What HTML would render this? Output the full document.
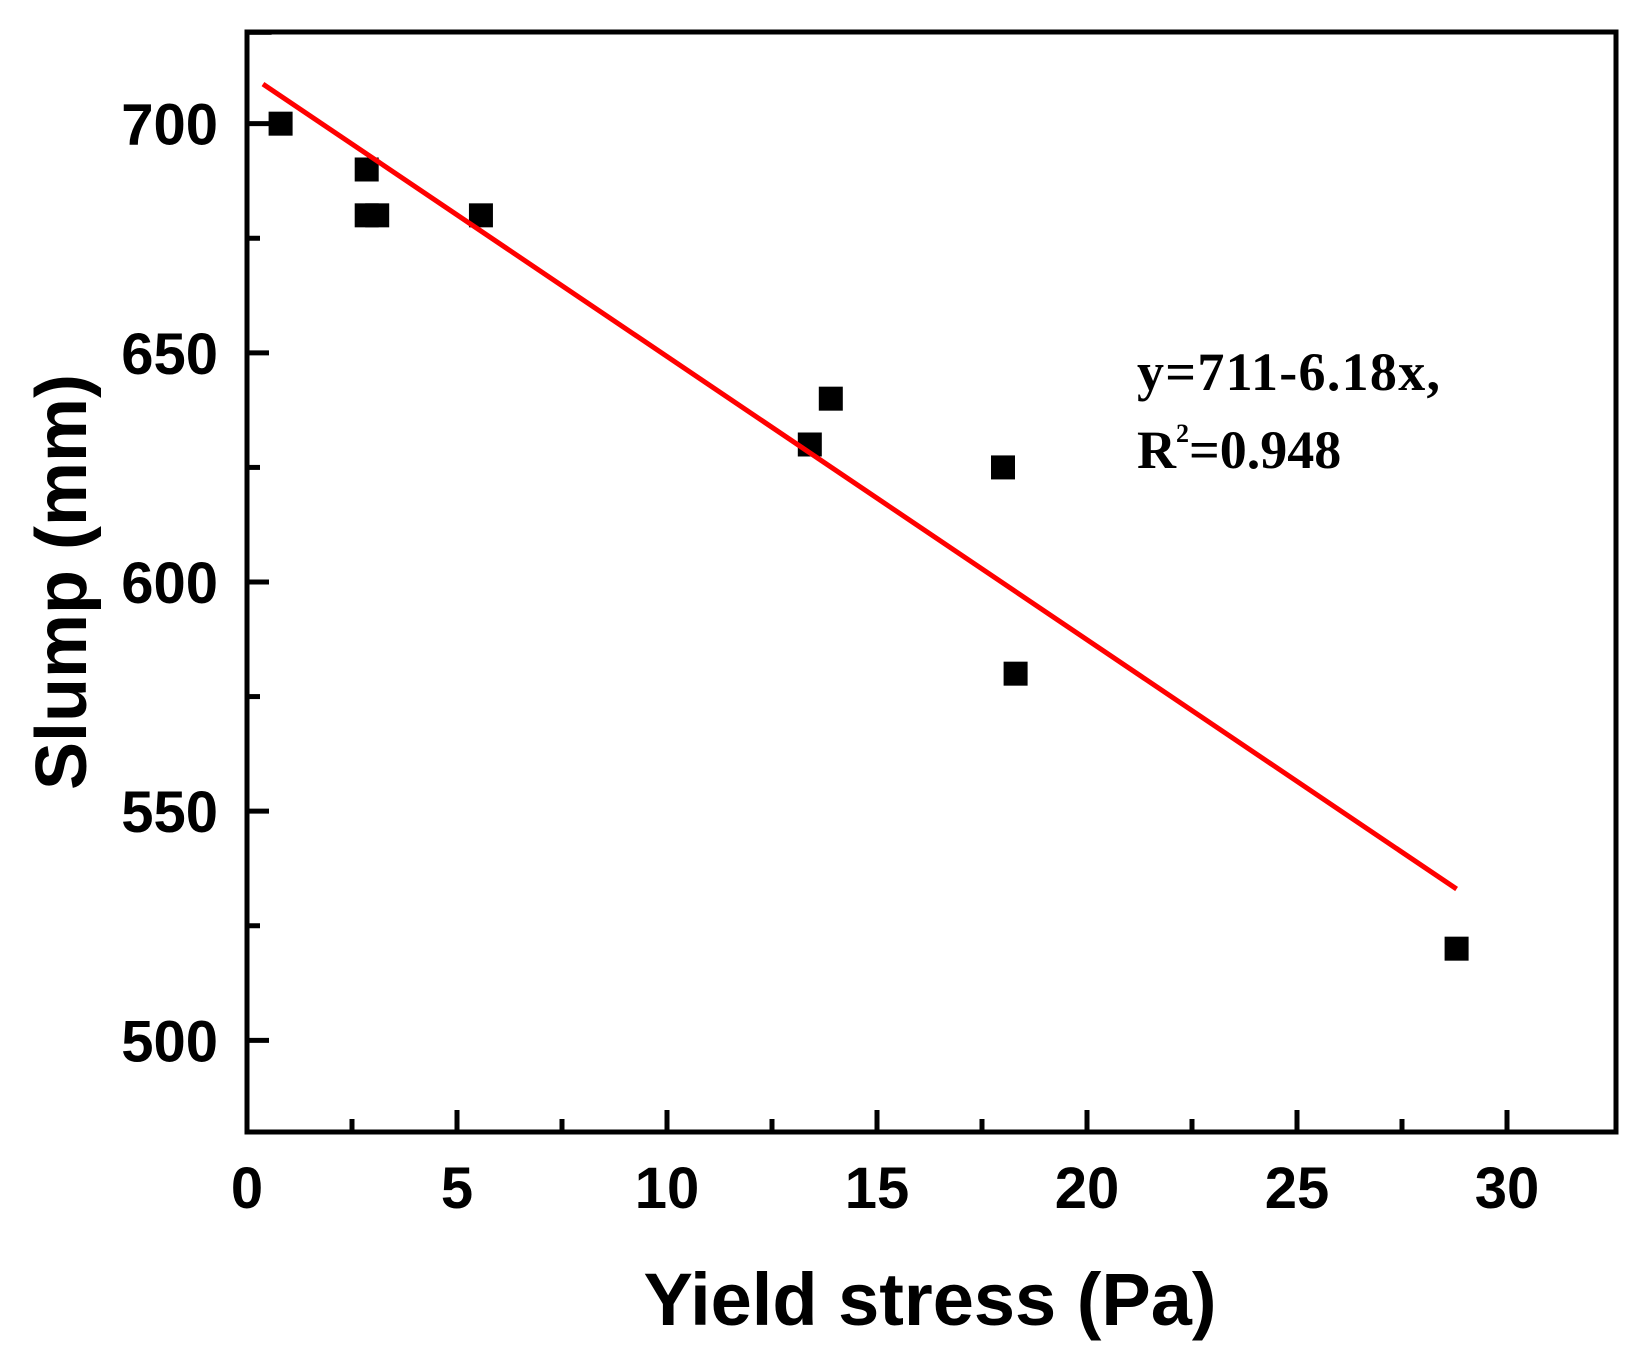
<!DOCTYPE html>
<html><head><meta charset="utf-8"><style>body{margin:0;background:#fff}svg{display:block}</style></head>
<body>
<svg id="chart" width="1651" height="1364" xmlns="http://www.w3.org/2000/svg">
<defs><clipPath id="plotclip"><rect x="247" y="32" width="1369" height="1100"/></clipPath></defs>
<g id="g"></g>
</svg>
<script>
const xVals=[0.3,0.8,2.85,2.85,3.1,5.57,13.4,13.9,18.0,18.3,28.8];
const yVals=[722,700,690,680,680,680,630,640,625,580,520];
const xTicks=[0,5,10,15,20,25,30];
const yTicks=[500,550,600,650,700];
const fitX=[0.38,28.8];
const intercept=711, slope=-6.18;
const L=247,R=1616,T=32,B=1132;
const sx=v=>L+v*42, sy=v=>B-(v-480)*(B-T)/240;
const g=document.getElementById('g');const NS='http://www.w3.org/2000/svg';
function mk(t,a,p){const e=document.createElementNS(NS,t);for(const k in a)e.setAttribute(k,a[k]);(p||g).appendChild(e);return e;}
for(let v=0;v<=30;v+=2.5){const major=v%5===0;const e=mk('line',{x1:sx(v),x2:sx(v),y1:B,y2:B-(major?22:13),stroke:'#000','stroke-width':5});

}
for(let v=500;v<=700;v+=25){const major=v%50===0;const e=mk('line',{x1:L,x2:L+(major?22:13),y1:sy(v),y2:sy(v),stroke:'#000','stroke-width':5});

}
xTicks.forEach(v=>{const t=mk('text',{x:sx(v),y:1208,'text-anchor':'middle','font-family':'Liberation Sans, sans-serif','font-weight':'bold','font-size':58});t.textContent=v;

});
yTicks.forEach(v=>{const t=mk('text',{x:218,y:sy(v)+21,'text-anchor':'end','font-family':'Liberation Sans, sans-serif','font-weight':'bold','font-size':58});t.textContent=v;

});
const pg=mk('g',{'clip-path':'url(#plotclip)'});
xVals.forEach((x,i)=>{const r=mk('rect',{x:sx(x)-12,y:sy(yVals[i])-12,width:24,height:24,fill:'#000'},pg);

});
const fl=mk('line',{x1:sx(fitX[0]),y1:sy(intercept+slope*fitX[0]),x2:sx(fitX[1]),y2:sy(intercept+slope*fitX[1]),stroke:'#f00','stroke-width':5});


const fr=mk('rect',{x:L,y:T,width:R-L,height:B-T,fill:'none',stroke:'#000','stroke-width':5});


const xt=mk('text',{x:930,y:1325,'text-anchor':'middle','font-family':'Liberation Sans, sans-serif','font-weight':'bold','font-size':74});xt.textContent='Yield stress (Pa)';


const yt=mk('text',{x:0,y:0,'text-anchor':'middle','font-family':'Liberation Sans, sans-serif','font-weight':'bold','font-size':72,transform:'translate(86,582) rotate(-90)'});yt.textContent='Slump (mm)';


const e1=mk('text',{x:1137,y:390,'font-family':'Liberation Serif, serif','font-weight':'bold','font-size':54,textLength:303});e1.textContent='y=711-6.18x,';


const e2=mk('text',{x:1137,y:468,'font-family':'Liberation Serif, serif','font-weight':'bold','font-size':54});


e2.innerHTML='R<tspan font-size="26" dy="-26">2</tspan><tspan dy="26">=0.948</tspan>';
</script>
</body></html>
